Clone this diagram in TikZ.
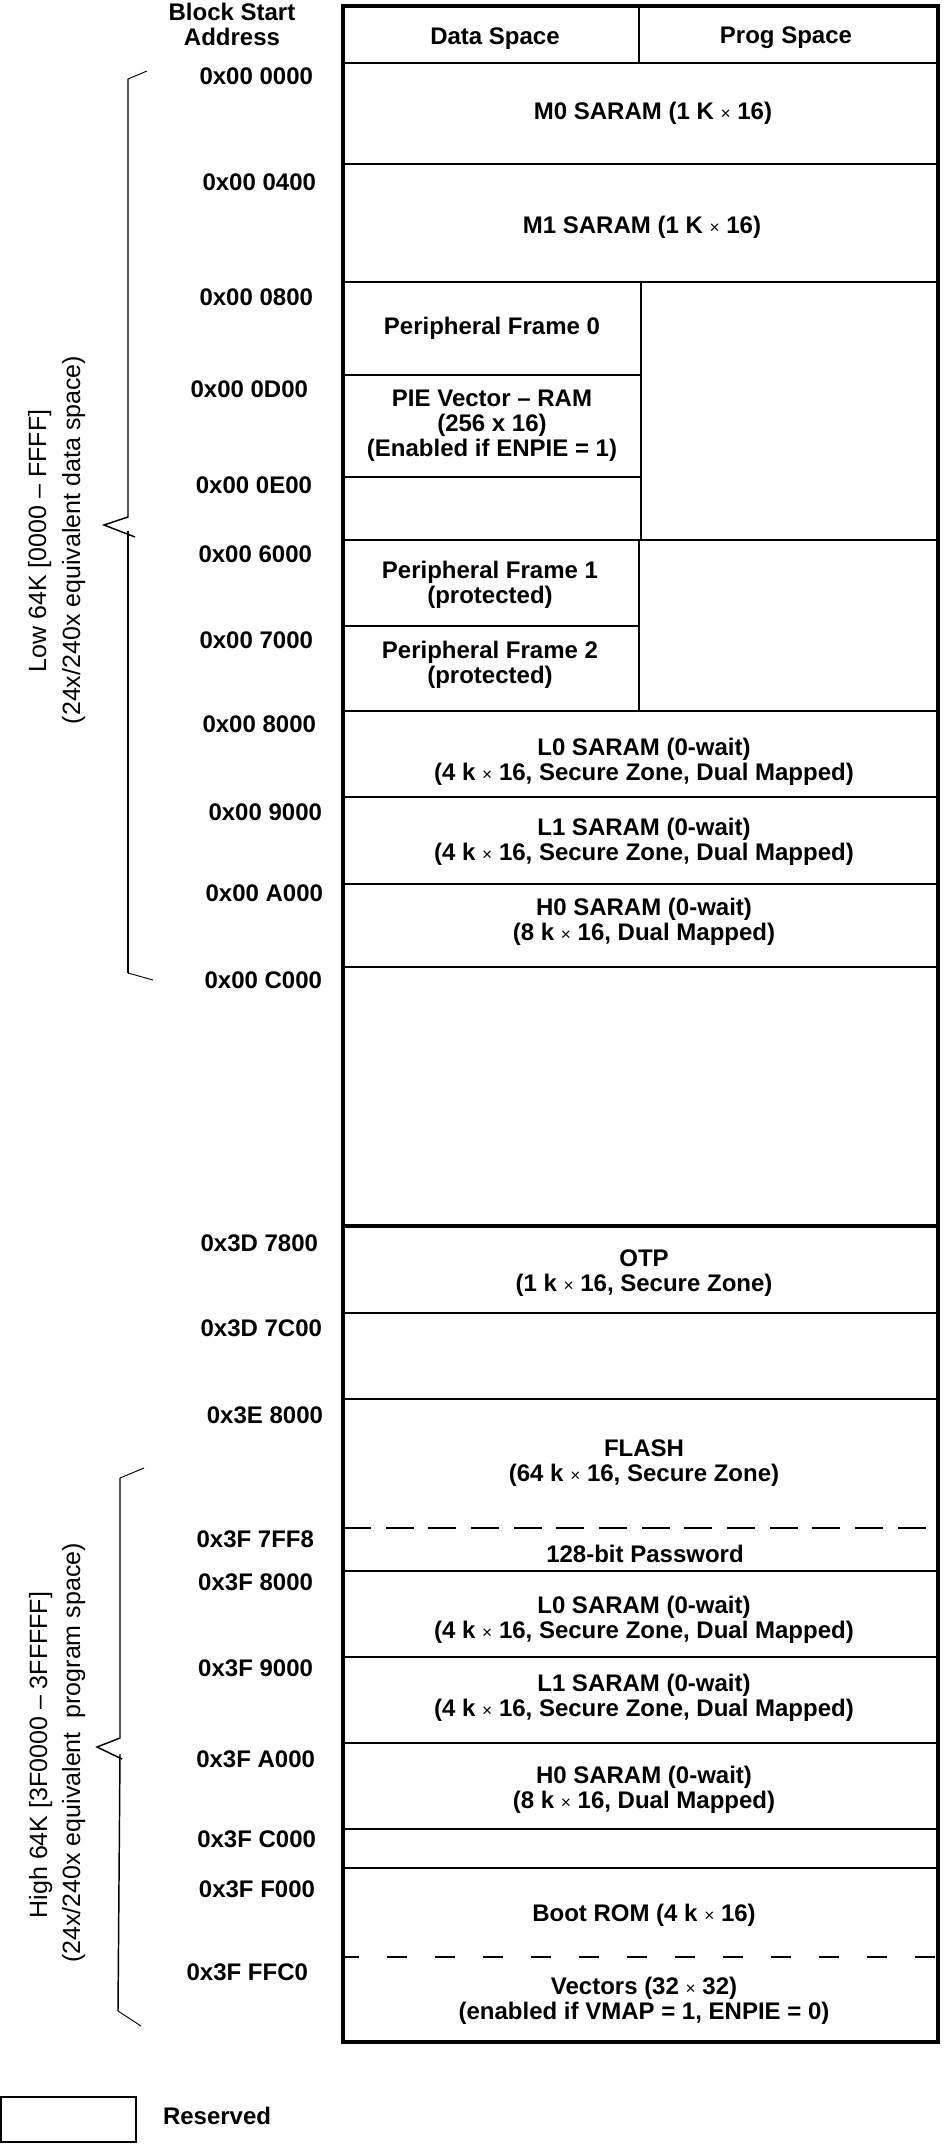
\documentclass[tikz,border=0pt]{standalone}
\usepackage{fontspec}
\setmainfont{Liberation Sans}
\newcommand{\tms}{{\mdseries\fontsize{13}{13}\selectfont ×}}
\begin{document}
\begin{tikzpicture}[x=0.75pt,y=-0.75pt,
  every node/.style={inner sep=0pt, outer sep=0pt},
  boxtxt/.style={font=\fontsize{18}{18.8}\selectfont\bfseries, align=center},
  addr/.style={font=\fontsize{18}{18.8}\selectfont\bfseries, anchor=east},
  vtxt/.style={font=\fontsize{18.75}{25.5}\selectfont, rotate=90, anchor=base},
  frame/.style={line width=3pt},
  rowA/.style={line width=1.3pt},
  rowB/.style={line width=0.8pt},
  bracel/.style={line width=1.1pt, line join=miter},
  tipl/.style={line width=0.7pt},
]
\useasboundingbox (0,0) rectangle (945,2144);

% outer frame
\draw[frame] (343,6) rectangle (938,2042);

% header
\draw[rowB] (639,6) -- (639,63);
\draw[rowA] (343,63) -- (938,63);
\node[boxtxt] (hds) at (495,39) {Data Space};
\node[boxtxt] (hps) at (786,38) {Prog Space};

% rows
\draw[rowA] (343,164) -- (938,164);
\draw[rowA] (343,282) -- (938,282);
\draw[rowA] (343,375) -- (641,375);
\draw[rowA] (343,477) -- (641,477);
\draw[rowA] (641,282) -- (641,540);
\draw[rowA] (343,540) -- (938,540);
\draw[rowB] (343,626) -- (639,626);
\draw[rowB] (639,540) -- (639,711);
\draw[rowB] (343,711) -- (938,711);
\draw[rowB] (343,797) -- (938,797);
\draw[rowB] (343,884) -- (938,884);
\draw[rowA] (343,967) -- (938,967);
\draw[frame] (343,1226) -- (938,1226);
\draw[rowB] (343,1313) -- (938,1313);
\draw[rowB] (343,1399) -- (938,1399);
\draw[rowA, dash pattern=on 21pt off 11pt] (343,1528) -- (938,1528);
\draw[rowB] (343,1571) -- (938,1571);
\draw[rowA] (343,1657) -- (938,1657);
\draw[rowA] (343,1743) -- (938,1743);
\draw[rowA] (343,1829) -- (938,1829);
\draw[rowB] (343,1868) -- (938,1868);
\draw[rowB, dash pattern=on 15pt off 21pt, dash phase=3pt] (343,1957) -- (938,1957);

% block texts
\node[boxtxt] (m0) at (653,113) {M0 SARAM (1 K \tms{} 16)};
\node[boxtxt] (m1) at (642,227) {M1 SARAM (1 K \tms{} 16)};
\node[boxtxt] (pf0) at (492,328) {Peripheral Frame 0};
\node[boxtxt] (pie) at (492,426) {PIE Vector – RAM\\(256 x 16)\\(Enabled if ENPIE = 1)};
\node[boxtxt] (pf1) at (490,585) {Peripheral Frame 1\\(protected)};
\node[boxtxt] (pf2) at (490,665) {Peripheral Frame 2\\(protected)};
\node[boxtxt] (l0a) at (644,762) {L0 SARAM (0-wait)\\(4 k \tms{} 16, Secure Zone, Dual Mapped)};
\node[boxtxt] (l1a) at (644,842) {L1 SARAM (0-wait)\\(4 k \tms{} 16, Secure Zone, Dual Mapped)};
\node[boxtxt] (h0a) at (644,922) {H0 SARAM (0-wait)\\(8 k \tms{} 16, Dual Mapped)};
\node[boxtxt] (otp) at (644,1273) {OTP\\(1 k \tms{} 16, Secure Zone)};
\node[boxtxt] (flash) at (644,1463) {FLASH\\(64 k \tms{} 16, Secure Zone)};
\node[boxtxt] (pwd) at (645,1554) {128-bit Password};
\node[boxtxt] (l0b) at (644,1620) {L0 SARAM (0-wait)\\(4 k \tms{} 16, Secure Zone, Dual Mapped)};
\node[boxtxt] (l1b) at (644,1698) {L1 SARAM (0-wait)\\(4 k \tms{} 16, Secure Zone, Dual Mapped)};
\node[boxtxt] (h0b) at (644,1790) {H0 SARAM (0-wait)\\(8 k \tms{} 16, Dual Mapped)};
\node[boxtxt] (boot) at (644,1915) {Boot ROM (4 k \tms{} 16)};
\node[boxtxt] (vec) at (644,2001) {Vectors (32 \tms{} 32)\\(enabled if VMAP = 1, ENPIE = 0)};

% header label
\node[boxtxt] (bsa) at (232,24) {Block Start\\Address};

% addresses
\node[addr] (a1) at (313,76) {0x00 0000};
\node[addr] (a2) at (316,182) {0x00 0400};
\node[addr] (a3) at (313,297) {0x00 0800};
\node[addr] (a4) at (308,389) {0x00 0D00};
\node[addr] (a5) at (312,485) {0x00 0E00};
\node[addr] (a6) at (312,554) {0x00 6000};
\node[addr] (a7) at (313,640) {0x00 7000};
\node[addr] (a8) at (316,724) {0x00 8000};
\node[addr] (a9) at (322,812) {0x00 9000};
\node[addr] (a10) at (323,893) {0x00 A000};
\node[addr] (a11) at (322,980) {0x00 C000};
\node[addr] (a12) at (318,1243) {0x3D 7800};
\node[addr] (a13) at (322,1328) {0x3D 7C00};
\node[addr] (a14) at (323,1415) {0x3E 8000};
\node[addr] (a15) at (314,1539) {0x3F 7FF8};
\node[addr] (a16) at (313,1582) {0x3F 8000};
\node[addr] (a17) at (313,1668) {0x3F 9000};
\node[addr] (a18) at (315,1759) {0x3F A000};
\node[addr] (a19) at (316,1839) {0x3F C000};
\node[addr] (a20) at (315,1889) {0x3F F000};
\node[addr] (a21) at (308,1972) {0x3F FFC0};

% low brace
\draw[tipl] (147,71) -- (128,79);
\draw[bracel] (128,79) -- (128,517) -- (104,525) -- (135,537);
\draw[bracel] (128,531) -- (128,973);
\draw[tipl] (128,973) -- (153,980);
\node[vtxt] (lowa) at (46,541) {Low 64K [0000 – FFFF]};
\node[vtxt] (lowb) at (80,540) {(24x/240x equivalent data space)};

% high brace
\draw[tipl] (144,1468) -- (120,1478);
\draw[bracel] (120,1478) -- (120,1738) -- (97,1747) -- (122,1759);
\draw[bracel] (120,1754) -- (118,2011);
\draw[tipl] (118,2011) -- (141,2026);
\node[vtxt] (higha) at (47,1755) {High 64K [3F0000 – 3FFFFF]};
\node[vtxt] (highb) at (80,1753) {(24x/240x equivalent\ \ program space)};

% legend
\draw[rowB] (1,2097) rectangle (136,2142);
\node[boxtxt, anchor=west] (res) at (163,2116) {Reserved};
\end{tikzpicture}
\end{document}
